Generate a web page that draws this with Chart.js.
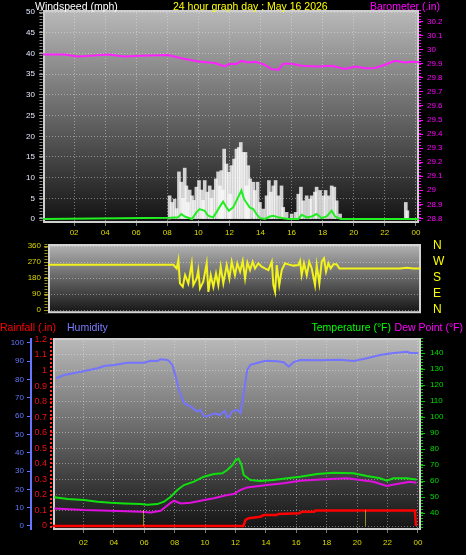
<!DOCTYPE html>
<html>
<head>
<meta charset="utf-8">
<script src="https://cdn.jsdelivr.net/npm/chart.js@4.4.1/dist/chart.umd.min.js"></script>
<style>
html, body { margin: 0; padding: 0; background: #000; width: 466px; height: 555px; overflow: hidden; }
body { position: relative; }
canvas { position: absolute; left: 0; }
.t { position: absolute; font: 10.5px 'Liberation Sans', Arial, sans-serif; white-space: nowrap; line-height: 12px; z-index: 5; }
</style>
</head>
<body>
<div class="t" style="left:35px;top:0;color:#fff">Windspeed (mph)</div>
<div class="t" style="left:173px;top:0;color:#ffff00">24 hour graph day : May 16 2026</div>
<div class="t" style="right:26px;top:0;color:#ff00ff">Barometer (.in)</div>
<div class="t" style="left:0;top:321px;color:#ff0000">Rainfall (.in)</div>
<div class="t" style="left:67px;top:321px;color:#7c7cff">Humidity</div>
<div class="t" style="right:75px;top:321px;color:#00ff00">Temperature (°F)</div>
<div class="t" style="right:3px;top:321px;color:#ff00ff">Dew Point (°F)</div>

<canvas id="wind_canvas" width="466" height="242" style="top:0"></canvas>
<canvas id="dir_canvas" width="466" height="85" style="top:236px"></canvas>
<canvas id="temp_canvas" width="466" height="235" style="top:320px"></canvas>

<script>
// tick values and labels
const hourTicks = [2, 4, 6, 8, 10, 12, 14, 16, 18, 20, 22, 24];
const hourLabels = ['02', '04', '06', '08', '10', '12', '14', '16', '18', '20', '22', '00'];
const windTicks = [0, 5, 10, 15, 20, 25, 30, 35, 40, 45, 50];
const baroTicks = [28.8, 28.9, 29, 29.1, 29.2, 29.3, 29.4, 29.5, 29.6, 29.7, 29.8, 29.9, 30, 30.1, 30.2];
const dirTicks = [0, 90, 180, 270, 360];
const compassLabels = ['N', 'E', 'S', 'W', 'N'];
const humTicks = [0, 10, 20, 30, 40, 50, 60, 70, 80, 90, 100];
const rainTicks = [0, 0.1, 0.2, 0.3, 0.4, 0.5, 0.6, 0.7, 0.8, 0.9, 1, 1.1, 1.2];
const tempTicks = [40, 50, 60, 70, 80, 90, 100, 110, 120, 130, 140];

// wind gust (mph)
const gustHours = [8.10, 8.15, 8.30, 8.47, 8.60, 8.75, 8.90, 9.01, 9.12, 9.23, 9.33, 9.44, 9.59, 9.72, 9.87, 10.04, 10.19, 10.30, 10.41, 10.58,
  10.73, 10.84, 10.95, 11.12, 11.27, 11.38, 11.48, 11.57, 11.66, 11.81, 11.96, 12.04, 12.13, 12.30, 12.45, 12.60, 12.73, 12.88, 13.03, 13.12,
  13.21, 13.33, 13.53, 13.63, 13.81, 13.96, 14.17, 14.39, 14.54, 14.67, 14.82, 14.97, 15.14, 15.35, 15.46, 15.68, 16.00, 16.26, 16.43, 16.60,
  16.75, 16.97, 17.18, 17.29, 17.50, 17.61, 17.83, 18.05, 18.19, 18.37, 18.58, 18.75, 18.90, 19.12, 19.20, 23.30, 23.35, 23.40, 23.45, 23.50];
const gustMph = [0, 5.6, 4.0, 4.8, 2.5, 11.4, 8.9, 5.0, 12.3, 8.0, 4.0, 7.0, 5.6, 4.5, 7.7, 9.3, 7.0, 4.5, 9.3, 6.5,
  8.0, 5.0, 7.0, 9.7, 11.4, 8.0, 11.7, 7.0, 16.9, 13.3, 11.3, 6.0, 12.9, 14.5, 16.9, 17.3, 18.5, 16.1, 16.1, 8.0,
  12.9, 9.7, 8.9, 6.9, 8.9, 4.0, 2.4, 5.6, 9.3, 6.5, 8.0, 9.3, 5.6, 8.0, 2.8, 1.6, 1.2, 1.6, 6.0, 7.7,
  4.4, 5.6, 4.8, 5.6, 6.5, 7.7, 6.9, 5.6, 6.9, 5.6, 8.0, 7.7, 4.4, 1.2, 0, 0, 4.0, 0, 2.0, 0];

// average wind speed (mph)
const avgHours = [0, 8.19, 8.69, 8.90, 9.12, 9.59, 9.87, 10.08, 10.41, 10.62, 10.95, 11.16, 11.38, 11.59, 11.74, 11.96, 12.24, 12.45, 12.60, 12.77,
  12.94, 13.09, 13.30, 13.53, 13.74, 13.96, 14.28, 14.60, 14.82, 15.14, 15.46, 15.78, 16.43, 16.65, 16.97, 17.29, 17.61, 17.94, 18.26, 18.58,
  18.80, 19.01, 19.20, 24.2];
const avgMph = [0, 0.3, 0.4, 1.2, 0.6, 0, 1.6, 2.4, 2.0, 0.8, 0.4, 1.6, 3.0, 4.2, 3.2, 2.0, 2.8, 4.4, 5.6, 6.9,
  4.8, 4.0, 2.8, 2.4, 1.2, 0.2, 0, 0.6, 0.8, 0.4, 0.2, 0, 0, 1.0, 0.4, 0.6, 1.2, 0.2, 0.6, 2.0,
  0.6, 0.2, 0, 0];

// barometer (.in)
const baroHours = [0, 1.37, 2.24, 3.10, 4.17, 5.25, 6.32, 8.05, 8.90, 9.98, 11.05, 11.70, 12.02, 12.45, 12.77, 13.20, 13.68, 14.28, 14.71, 15.14,
  15.46, 16.00, 16.65, 17.72, 18.58, 19.44, 20.08, 20.73, 21.37, 22.00, 22.66, 23.29, 23.74, 24.2];
const baroIn = [29.966, 29.966, 29.952, 29.958, 29.966, 29.952, 29.957, 29.962, 29.940, 29.916, 29.905, 29.881, 29.900, 29.898, 29.921, 29.910, 29.915, 29.893, 29.862, 29.857,
  29.900, 29.900, 29.886, 29.881, 29.886, 29.864, 29.881, 29.869, 29.871, 29.893, 29.921, 29.910, 29.914, 29.912];

// wind direction (degrees)
const dirHours = [0, 8.07, 8.28, 8.39, 8.49, 8.67, 8.82, 9.03, 9.25, 9.35, 9.57, 9.67, 9.78, 9.99, 10.21, 10.32, 10.47, 10.64, 10.81, 10.96,
  11.11, 11.28, 11.50, 11.67, 11.82, 12.03, 12.18, 12.36, 12.53, 12.68, 12.83, 13.00, 13.17, 13.32, 13.53, 13.75, 13.96, 14.18, 14.40, 14.50,
  14.61, 14.72, 14.88, 15.04, 15.25, 15.46, 15.79, 16.11, 16.22, 16.32, 16.47, 16.65, 16.81, 16.97, 17.18, 17.29, 17.46, 17.61, 17.76, 17.89,
  18.04, 18.19, 18.36, 18.58, 18.75, 22.65, 23.08, 23.51, 24.0];
const dirDeg = [255, 255, 234, 281, 150, 131, 197, 150, 263, 141, 178, 225, 122, 160, 263, 103, 197, 131, 206, 141,
  244, 150, 253, 178, 272, 197, 263, 216, 276, 178, 268, 225, 272, 234, 263, 244, 234, 225, 272, 141,
  103, 253, 141, 225, 263, 257, 250, 253, 276, 197, 263, 197, 272, 234, 141, 253, 150, 272, 291, 216,
  263, 234, 257, 257, 234, 234, 238, 234, 234];

// humidity (%)
const humHours = [0.2, 0.74, 1.84, 2.93, 3.36, 4.02, 4.90, 5.99, 6.43, 6.87, 7.08, 7.52, 7.61, 7.85, 8.07, 8.28, 8.61, 9.05, 9.49, 9.70,
  9.92, 10.10, 10.36, 10.60, 10.80, 11.00, 11.13, 11.30, 11.46, 11.60, 11.78, 11.95, 12.11, 12.33, 12.54, 12.77, 12.98, 13.42, 13.97, 14.73,
  15.17, 15.50, 15.82, 16.26, 17.57, 18.89, 19.80, 20.64, 21.51, 22.28, 23.26, 23.50, 24.02];
const humPct = [80.7, 82.5, 84.3, 86.2, 87.4, 88.0, 89.2, 89.2, 90.3, 90.2, 91.1, 90.7, 90.3, 88.0, 81.6, 74.3, 67.2, 65.2, 62.5, 63.5,
  60.1, 59.8, 60.7, 61.5, 61.2, 60.5, 62.0, 62.8, 59.4, 60.0, 62.5, 63.0, 63.5, 61.6, 72.5, 85.2, 88.0, 89.0, 90.3, 90.0,
  89.5, 87.0, 89.5, 90.7, 90.5, 90.8, 90.2, 91.6, 93.4, 94.4, 95.2, 94.5, 94.5];

// temperature / dew point (F)
const tempHours = [0.09, 0.96, 2.05, 2.93, 3.80, 4.68, 5.77, 6.21, 6.86, 7.30, 7.74, 8.18, 8.61, 9.27, 9.92, 10.58, 11.13, 11.46, 11.80, 12.00,
  12.20, 12.40, 12.54, 12.98, 13.64, 14.49, 15.39, 16.26, 17.36, 18.45, 19.76, 20.64, 21.51, 21.95, 22.38, 23.26, 23.90];
const tempF = [49.8, 48.75, 48.1, 47.1, 46.4, 46.0, 45.6, 45.2, 45.6, 47.1, 50.2, 54.4, 57.5, 59.6, 62.7, 64.4, 64.8, 66.9, 70.0, 73.0,
  74.0, 70.0, 63.75, 60.6, 60.0, 60.6, 61.7, 62.7, 64.4, 65.2, 64.8, 63.1, 61.7, 60.2, 61.7, 61.7, 61.0];
const dewHours = [0.09, 2.05, 3.80, 5.77, 6.43, 7.08, 7.74, 7.96, 8.39, 9.05, 9.70, 10.58, 11.46, 11.89, 12.33, 12.77, 14.08, 15.17, 16.26, 17.57,
  19.32, 20.20, 21.07, 21.95, 22.60, 23.48, 23.90];
const dewF = [42.9, 41.9, 41.4, 40.8, 40.4, 41.4, 46.4, 47.7, 46.0, 46.4, 47.7, 49.2, 51.25, 51.9, 54.4, 56.0, 57.5, 58.6, 60.2, 61.0,
  61.7, 60.6, 59.6, 56.9, 58.1, 59.6, 58.9];

// rainfall (.in)
const rainHours = [0, 12.52, 12.66, 12.87, 13.64, 13.86, 14.69, 14.82, 16.20, 16.37, 17.18, 17.25, 23.80, 23.87];
const rainIn = [0, 0, 0.04, 0.05, 0.06, 0.07, 0.07, 0.077, 0.082, 0.092, 0.092, 0.10, 0.10, 0];

// sunrise / sunset markers
const sunHours = [5.9, 20.52];

const FONT = "'Liberation Sans Narrow', 'Liberation Sans', Arial, sans-serif";
const tickFont = { family: FONT, size: 8 };

function pts(xs, ys) {
    return xs.map((x, i) => ({ x: x, y: ys[i] }));
}
function fixTicks(values) {
    return s => { s.ticks = values.map(v => ({ value: v })); };
}
function fixWidth(w) {
    return s => { s.width = w; };
}
function fixHeight(h) {
    return s => { s.height = h; };
}

// background gradient, frame, axis lines, markers
const panelDeco = {
    id: 'panelDeco',
    beforeDraw(chart, args, o) {
        const { ctx, chartArea: a } = chart;
        const g = ctx.createLinearGradient(0, a.top, 0, a.bottom);
        g.addColorStop(0, o.top);
        g.addColorStop(1, o.bottom);
        ctx.save();
        ctx.fillStyle = g;
        ctx.fillRect(a.left, a.top, a.right - a.left, a.bottom - a.top);
        ctx.restore();
    },
    beforeDatasetsDraw(chart, args, o) {
        const { ctx, chartArea: a } = chart;
        ctx.save();
        ctx.strokeStyle = o.frame;
        ctx.lineWidth = 2;
        ctx.strokeRect(a.left + 1, a.top + 1, a.right - a.left - 2, a.bottom - a.top - 2);
        ctx.restore();
    },
    afterDraw(chart, args, o) {
        const { ctx, chartArea: a } = chart;
        (o.axisLines || []).forEach(l => {
            const s = chart.scales[l.scale];
            const x = s.position === 'right' ? s.left + l.off : s.right - l.off;
            ctx.save();
            ctx.strokeStyle = l.color;
            ctx.lineWidth = l.width;
            ctx.setLineDash(l.dash || []);
            ctx.beginPath();
            ctx.moveTo(x, a.top);
            ctx.lineTo(x, a.bottom);
            ctx.stroke();
            ctx.restore();
        });
        if (o.markers) {
            const xs = chart.scales.x, ys = chart.scales[o.markers.scale];
            ctx.save();
            ctx.strokeStyle = o.markers.color;
            ctx.lineWidth = 1;
            ctx.setLineDash([1, 1]);
            o.markers.hours.forEach(h => {
                const x = Math.round(xs.getPixelForValue(h)) + 0.5;
                ctx.beginPath();
                ctx.moveTo(x, ys.getPixelForValue(o.markers.from));
                ctx.lineTo(x, ys.getPixelForValue(0));
                ctx.stroke();
            });
            ctx.restore();
        }
    }
};

const gridColor = 'rgba(235,235,235,0.45)';

function hourAxis(height, padding, tickLen) {
    return {
        type: 'linear', min: 0, max: 24.2, bounds: 'data', offset: false,
        afterBuildTicks: fixTicks(hourTicks), afterFit: fixHeight(height),
        ticks: { color: '#dcdc00', font: tickFont, padding: padding, maxRotation: 0, autoSkip: false,
                 callback: (v, i) => hourLabels[i] },
        grid: { color: gridColor, tickColor: '#777', tickLength: tickLen, offset: false },
        border: { display: false, dash: [1, 2] }
    };
}

function createWind() {
    new Chart(document.getElementById('wind_canvas'), {
        type: 'line',
        data: {
            datasets: [{
                data: pts(avgHours, avgMph), yAxisID: 'y', order: 1,
                borderColor: '#22ee22', borderWidth: 2, pointRadius: 0, tension: 0
            }, {
                type: 'bar',
                data: pts(gustHours, gustMph), yAxisID: 'y', order: 2,
                backgroundColor: 'rgba(250,250,250,0.8)', barThickness: 3, borderWidth: 0
            }, {
                data: pts(baroHours, baroIn), yAxisID: 'baro', order: 0,
                borderColor: '#ff22ff', borderWidth: 2, pointRadius: 0, tension: 0
            }]
        },
        options: {
            responsive: false, animation: false,
            layout: { padding: { top: 10, left: 0, right: 0, bottom: 0 } },
            scales: {
                x: hourAxis(19, 2, 3),
                y: {
                    position: 'left', min: -0.97, max: 50.55, bounds: 'data',
                    afterBuildTicks: fixTicks(windTicks), afterFit: fixWidth(43),
                    ticks: { color: '#e4e8ff', font: tickFont, padding: 4, autoSkip: false },
                    grid: { color: gridColor, tickColor: '#999', tickLength: 4 },
                    border: { display: false, dash: [1, 2] }
                },
                baro: {
                    position: 'right', min: 28.767, max: 30.283, bounds: 'data',
                    afterBuildTicks: fixTicks(baroTicks), afterFit: fixWidth(47),
                    ticks: { color: '#ff00ff', font: tickFont, padding: 4, autoSkip: false,
                             callback: v => String(Number(v.toFixed(1))) },
                    grid: { drawOnChartArea: false, tickColor: '#ff00ff', tickLength: 4 },
                    border: { display: false }
                }
            },
            plugins: {
                legend: { display: false },
                tooltip: { enabled: false },
                panelDeco: {
                    top: '#b9b9b9', bottom: '#121212', frame: '#cfcfcf',
                    axisLines: [
                        { scale: 'y', off: 2, color: '#8a8a8a', width: 3, dash: [1, 2] },
                        { scale: 'baro', off: 1, color: '#ff00ff', width: 2, dash: [1, 2] }
                    ]
                }
            }
        },
        plugins: [panelDeco]
    });
}

function createDirection() {
    new Chart(document.getElementById('dir_canvas'), {
        type: 'line',
        data: {
            datasets: [{
                data: pts(dirHours, dirDeg), yAxisID: 'y',
                borderColor: '#f2f21c', borderWidth: 2, pointRadius: 0, tension: 0
            }]
        },
        options: {
            responsive: false, animation: false,
            layout: { padding: { top: 8, left: 0, right: 0, bottom: 7 } },
            scales: {
                x: { type: 'linear', min: 0, max: 24, display: false },
                y: {
                    position: 'left', min: -16.9, max: 371.25, bounds: 'data',
                    afterBuildTicks: fixTicks(dirTicks), afterFit: fixWidth(48),
                    ticks: { color: '#d8d800', font: tickFont, padding: 3, autoSkip: false },
                    grid: { color: gridColor, tickColor: '#b0a020', tickLength: 4 },
                    border: { display: false, dash: [1, 2] }
                },
                compass: {
                    position: 'right', min: -16.9, max: 371.25, bounds: 'data',
                    afterBuildTicks: fixTicks(dirTicks), afterFit: fixWidth(45),
                    ticks: { color: '#ffff00', font: { family: "'Liberation Sans', Arial, sans-serif", size: 12, lineHeight: 1 },
                             padding: 1, autoSkip: false, callback: (v, i) => compassLabels[i] },
                    grid: { drawOnChartArea: false, drawTicks: true, tickLength: 11, tickColor: 'rgba(0,0,0,0)' },
                    border: { display: false }
                }
            },
            plugins: {
                legend: { display: false },
                tooltip: { enabled: false },
                panelDeco: {
                    top: '#b4b4b4', bottom: '#141414', frame: '#d4d4d4',
                    axisLines: [{ scale: 'y', off: 2, color: '#9a8f20', width: 3, dash: [1, 2] }]
                }
            }
        },
        plugins: [panelDeco]
    });
}

function createTemperature() {
    new Chart(document.getElementById('temp_canvas'), {
        type: 'line',
        data: {
            datasets: [{
                data: pts(rainHours, rainIn), yAxisID: 'rain',
                borderColor: '#ff0000', borderWidth: 2.5, pointRadius: 0, tension: 0
            }, {
                data: pts(tempHours, tempF), yAxisID: 'temp',
                borderColor: '#10e010', borderWidth: 2, pointRadius: 0, tension: 0
            }, {
                data: pts(dewHours, dewF), yAxisID: 'temp',
                borderColor: '#e010e0', borderWidth: 2, pointRadius: 0, tension: 0
            }, {
                data: pts(humHours, humPct), yAxisID: 'hum',
                borderColor: '#7474ff', borderWidth: 2, pointRadius: 0, tension: 0
            }]
        },
        options: {
            responsive: false, animation: false,
            layout: { padding: { top: 18, left: 0, right: 0, bottom: 0 } },
            scales: {
                x: hourAxis(25, 5, 3),
                hum: {
                    position: 'left', weight: 1, min: -2.19, max: 102.7, bounds: 'data',
                    afterBuildTicks: fixTicks(humTicks), afterFit: fixWidth(31),
                    ticks: { color: '#6677ff', font: tickFont, padding: 3, autoSkip: false },
                    grid: { drawOnChartArea: false, tickColor: '#6677ff', tickLength: 4 },
                    border: { display: false }
                },
                rain: {
                    position: 'left', weight: 0, min: -0.0257, max: 1.209, bounds: 'data',
                    afterBuildTicks: fixTicks(rainTicks), afterFit: fixWidth(22),
                    ticks: { color: '#ee1010', font: { family: FONT, size: 9 }, padding: 3, autoSkip: false,
                             callback: v => String(Number(v.toFixed(1))) },
                    grid: { color: gridColor, tickColor: '#dd0000', tickLength: 3 },
                    border: { display: false, dash: [1, 2] }
                },
                temp: {
                    position: 'right', min: 29.4, max: 149.4, bounds: 'data',
                    afterBuildTicks: fixTicks(tempTicks), afterFit: fixWidth(45),
                    ticks: { color: '#00dd00', font: tickFont, padding: 5, autoSkip: false },
                    grid: { drawOnChartArea: false, tickColor: '#00cc00', tickLength: 4 },
                    border: { display: false }
                }
            },
            plugins: {
                legend: { display: false },
                tooltip: { enabled: false },
                panelDeco: {
                    top: '#bababa', bottom: '#121212', frame: '#d0d0d0',
                    axisLines: [
                        { scale: 'hum', off: 0, color: '#6677ff', width: 2 },
                        { scale: 'rain', off: 2, color: '#ff3030', width: 2, dash: [2, 2] },
                        { scale: 'temp', off: 1, color: '#00cc00', width: 2, dash: [1, 2] }
                    ],
                    markers: { hours: sunHours, scale: 'rain', from: 0.1, color: '#ffff40' }
                }
            }
        },
        plugins: [panelDeco]
    });
}

function loaded() {
    createWind();
    createDirection();
    createTemperature();
}
loaded();
</script>
</body>
</html>
